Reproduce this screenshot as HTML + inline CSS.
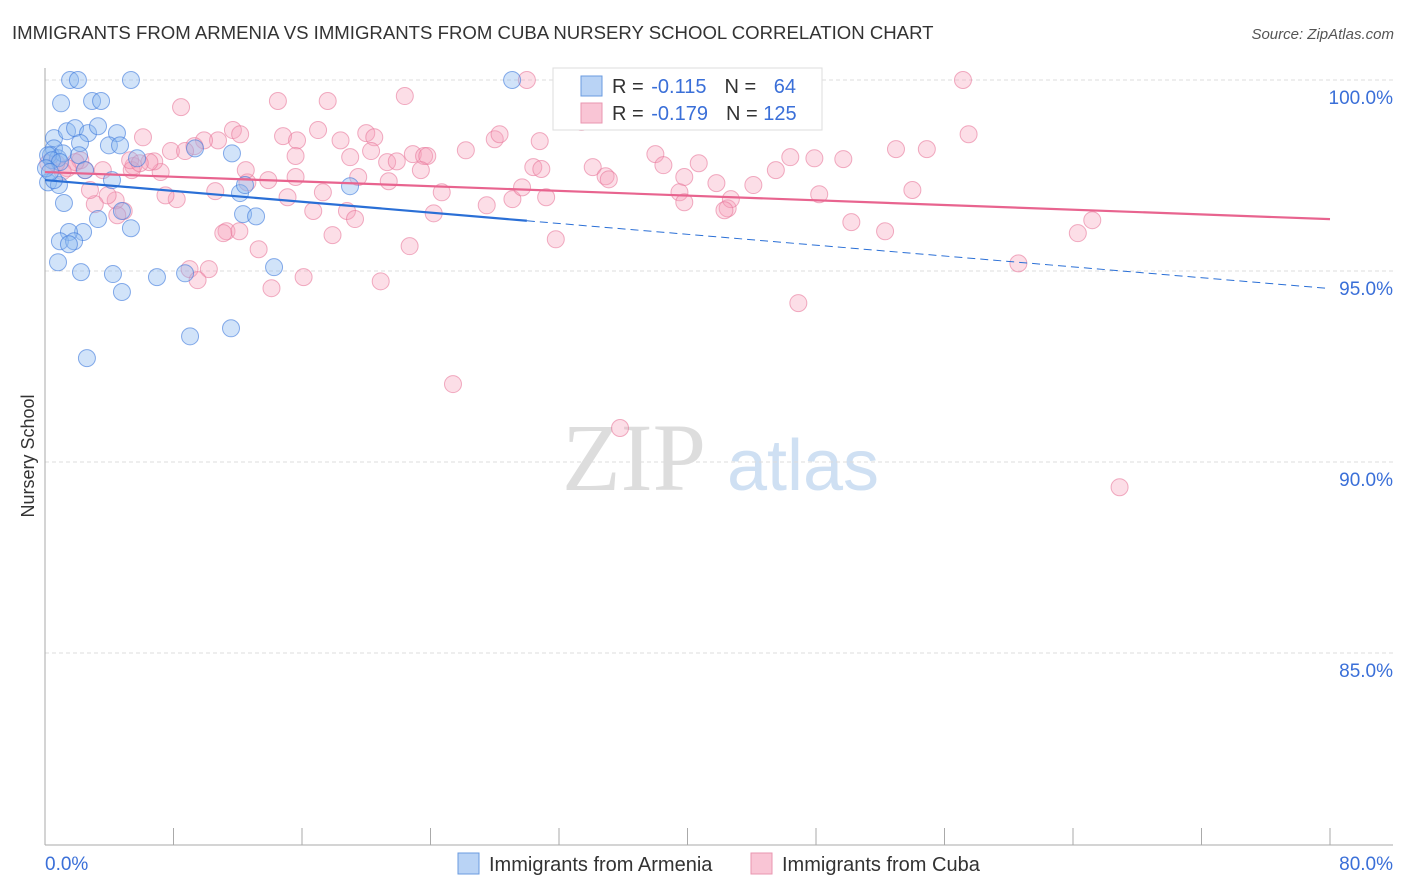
<!DOCTYPE html>
<html><head><meta charset="utf-8">
<style>
body{margin:0;background:#fff;font-family:"Liberation Sans",sans-serif;}
#wrap{position:relative;width:1406px;height:892px;overflow:hidden;}
</style></head>
<body>
<div id="wrap">
<svg id="svg" width="1406" height="892" xmlns="http://www.w3.org/2000/svg">
<text x="12" y="39" font-size="18.6" fill="#333" font-family="Liberation Sans, sans-serif">IMMIGRANTS FROM ARMENIA VS IMMIGRANTS FROM CUBA NURSERY SCHOOL CORRELATION CHART</text>
<text x="1394" y="39" font-size="15" fill="#555" font-style="italic" text-anchor="end">Source: ZipAtlas.com</text>
<text x="34" y="456" font-size="18" fill="#333" text-anchor="middle" transform="rotate(-90 34 456)">Nursery School</text>
<g><text x="634" y="490" font-size="96" fill="#ddd" font-family="Liberation Serif, serif" text-anchor="middle">ZIP</text><text x="803" y="490" font-size="72" fill="#cfe0f3" text-anchor="middle">atlas</text></g>
<g id="grid"></g><g id="axes"></g><g id="pts"></g><g id="trend"></g>
<g>
<rect x="553" y="68" width="269" height="62" fill="#fff" stroke="#ddd"/>
<rect x="581" y="76" width="21" height="20" fill="#b9d3f5" stroke="#6a9be0"/>
<rect x="581" y="103" width="21" height="20" fill="#f9c5d5" stroke="#e996b0"/>
<text x="612" y="93" font-size="20" fill="#333">R = <tspan fill="#3a6fd8" dx="2">-0.115</tspan><tspan dx="18">N = </tspan><tspan fill="#3a6fd8" dx="12">64</tspan></text>
<text x="612" y="120" font-size="20" fill="#333">R = <tspan fill="#3a6fd8" dx="2">-0.179</tspan><tspan dx="18">N = </tspan><tspan fill="#3a6fd8">125</tspan></text>
</g>
<g>
<rect x="458" y="853" width="21" height="21" fill="#b9d3f5" stroke="#6a9be0"/>
<text x="489" y="871" font-size="20" fill="#333">Immigrants from Armenia</text>
<rect x="751" y="853" width="21" height="21" fill="#f9c5d5" stroke="#e996b0"/>
<text x="782" y="871" font-size="20" fill="#333">Immigrants from Cuba</text>
</g>
</svg>
</div>
<script>
const armeniaX=[1.56,2.05,5.35,29.08,1.0,2.93,3.49,0.56,1.37,1.87,2.68,3.3,4.48,0.56,0.37,0.81,1.12,2.18,2.12,3.98,4.67,5.73,9.34,11.64,0.19,0.44,0.93,2.49,4.17,0.19,0.87,0.56,1.18,3.3,4.79,5.35,12.14,12.45,12.33,13.14,18.99,2.37,1.49,0.93,1.81,1.49,0.81,2.24,4.23,4.79,6.97,8.72,14.26,9.03,11.58,2.61,0.06,0.31];
const armeniaY=[100.0,100.0,100.0,100.0,99.39,99.45,99.45,98.48,98.66,98.74,98.61,98.79,98.61,98.21,98.03,97.95,98.08,98.35,98.03,98.29,98.29,97.95,98.21,98.08,98.03,97.9,97.85,97.64,97.38,97.32,97.25,97.38,96.78,96.36,96.57,96.12,97.04,97.25,96.49,96.43,97.22,96.02,96.02,95.78,95.78,95.7,95.23,94.97,94.92,94.45,94.84,94.94,95.1,93.29,93.5,92.72,97.69,97.59];
const cubaX=[30.0,38.1,57.15,33.4,22.4,14.5,17.6,8.47,11.7,12.15,10.77,9.9,9.3,6.1,7.84,8.72,14.82,15.69,17.0,18.4,20.0,20.5,20.3,15.6,19.0,21.3,21.9,22.9,23.6,23.8,26.2,28.0,28.3,30.8,30.4,30.9,23.4,34.1,34.9,35.1,38.0,38.5,40.7,39.8,41.8,39.5,39.8,42.5,42.7,42.3,44.1,45.5,46.4,47.9,49.7,48.2,50.2,52.3,52.98,54.9,54.0,57.5,60.6,64.3,65.2,66.9,46.9,35.8,25.4,31.8,29.1,27.5,29.7,31.2,24.2,24.7,22.7,20.9,19.5,21.4,17.3,15.6,15.1,16.7,18.8,19.3,17.9,16.1,14.1,13.3,12.6,13.9,12.5,10.6,11.3,12.1,11.1,9.0,10.2,9.5,8.2,7.5,7.2,6.8,6.5,5.5,5.4,4.9,4.4,3.9,3.6,3.1,2.8,2.5,2.2,1.9,1.4,1.1,0.7,0.2,4.5,5.3,5.9];
const cubaY=[100.0,100.0,100.0,98.9,99.58,99.45,99.45,99.29,98.69,98.58,98.42,98.42,98.27,98.5,98.14,98.14,98.53,98.42,98.69,98.42,98.61,98.5,98.14,98.01,97.98,97.85,97.87,98.06,98.01,98.01,98.16,98.45,98.58,98.4,97.72,97.67,97.64,97.72,97.48,97.4,98.06,97.77,97.82,97.46,97.3,97.06,96.8,96.64,96.88,96.59,97.25,97.64,97.98,97.95,97.93,97.01,96.28,96.04,98.19,98.19,97.12,98.58,95.2,95.99,96.33,89.34,94.16,90.89,92.04,95.83,96.88,96.72,97.19,96.93,96.51,97.06,95.65,94.73,97.46,97.35,97.06,97.46,96.93,96.57,96.57,96.36,95.94,94.84,94.55,95.57,97.32,97.38,97.64,97.09,96.04,96.04,95.99,95.05,95.05,94.76,96.88,96.98,97.59,97.87,97.85,97.75,97.64,96.57,96.85,96.98,97.64,96.75,97.12,97.64,97.9,97.85,97.69,97.61,97.82,97.82,96.46,97.9,97.82];
const yTicks=[100,95,90,85];
const yTickLabels=["100.0%","95.0%","90.0%","85.0%"];
const xTicks=[0,8,16,24,32,40,48,56,64,72,80];
const armeniaTrend=[97.38,-0.0355];
const cubaTrend=[97.59,-0.0154];

const X0=45,X1=1330,Y100=80,PPP=38.2;
const sx=v=>X0+(v/80)*(X1-X0);
const sy=v=>Y100+(100-v)*PPP;
const NS="http://www.w3.org/2000/svg";
function mk(tag,attrs,parent){const e=document.createElementNS(NS,tag);for(const k in attrs)e.setAttribute(k,attrs[k]);document.getElementById(parent).appendChild(e);return e;}

yTicks.forEach((t,i)=>{
  const g=mk('line',{x1:X0,x2:1393,y1:sy(t),y2:sy(t),stroke:'#ddd','stroke-dasharray':'4,3'},'grid');
  
  
  const l=mk('text',{x:1393,y:sy(t)+24,'font-size':19,fill:'#3a6fd8','text-anchor':'end'},'grid');
  l.textContent=yTickLabels[i];
  
  
});
const ya=mk('line',{x1:X0,x2:X0,y1:68,y2:845,stroke:'#aaa'},'axes');


const xa=mk('line',{x1:X0,x2:1393,y1:845,y2:845,stroke:'#aaa'},'axes');


xTicks.forEach(t=>{
  const k=mk('line',{x1:sx(t),x2:sx(t),y1:828,y2:845,stroke:'#aaa'},'axes');
  
  
});
const xl0=mk('text',{x:X0,y:870,'font-size':19,fill:'#3a6fd8'},'axes');xl0.textContent='0.0%';


const xl1=mk('text',{x:1393,y:870,'font-size':19,fill:'#3a6fd8','text-anchor':'end'},'axes');xl1.textContent='80.0%';



cubaX.forEach((x,i)=>{
  const c=mk('circle',{cx:sx(x),cy:sy(cubaY[i]),r:8.5,fill:'rgba(246,160,187,0.35)',stroke:'rgba(232,120,155,0.6)','stroke-width':1},'pts');
  
  
});
armeniaX.forEach((x,i)=>{
  const c=mk('circle',{cx:sx(x),cy:sy(armeniaY[i]),r:8.5,fill:'rgba(140,185,240,0.4)',stroke:'rgba(60,120,220,0.6)','stroke-width':1},'pts');
  
  
});
const at=v=>armeniaTrend[0]+armeniaTrend[1]*v;
const ct=v=>cubaTrend[0]+cubaTrend[1]*v;
const a1=mk('line',{x1:sx(0),y1:sy(at(0)),x2:sx(30),y2:sy(at(30)),stroke:'#2a6fd6','stroke-width':2.2},'trend');


const a2=mk('line',{x1:sx(30),y1:sy(at(30)),x2:sx(80),y2:sy(at(80)),stroke:'#2a6fd6','stroke-width':1,'stroke-dasharray':'8,5'},'trend');


const c1=mk('line',{x1:sx(0),y1:sy(ct(0)),x2:sx(80),y2:sy(ct(80)),stroke:'#e8648f','stroke-width':2.2},'trend');


</script>
</body></html>
